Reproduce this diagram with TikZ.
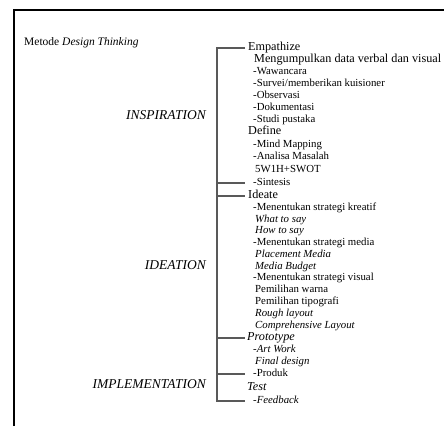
\documentclass[tikz,border=0pt]{standalone}
\usepackage{fontspec}
\setmainfont{Liberation Serif}
\begin{document}
\begin{tikzpicture}[x=1pt,y=-1pt,
  item/.style={anchor=mid west,inner sep=0pt,font=\fontsize{10.8}{12}\selectfont},
  head/.style={anchor=mid west,inner sep=0pt,font=\fontsize{12.2}{14}\selectfont},
  phase/.style={anchor=mid east,inner sep=0pt,font=\fontsize{13.5}{16}\selectfont\itshape},
  brace/.style={draw=black!65,line width=1.1pt}]
\useasboundingbox (0,0) rectangle (444,426);
% frame
\draw [line width=1.4pt] (14,426) -- (14,10) -- (444,10);

% title and phases
\node [item,font=\fontsize{11.5}{14}\selectfont] (title) at (24,43) {Metode \textit{Design Thinking}};
\node [phase] (insp) at (206,117) {INSPIRATION};
\node [phase] (idea) at (206,267) {IDEATION};
\node [phase] (impl) at (206,386) {IMPLEMENTATION};

% nodes
\node [head] (emp) at (248,48) {Empathize};
\node [head] (kumpul) at (254,60) {Mengumpulkan data verbal dan visual};
\node [item] (waw) at (253,72) {-Wawancara};
\node [item] (surv) at (253,84) {-Survei/memberikan kuisioner};
\node [item] (obs) at (253,96) {-Observasi};
\node [item] (dok) at (253,108) {-Dokumentasi};
\node [item] (stu) at (253,120) {-Studi pustaka};
\node [head] (def) at (248,132) {Define};
\node [item] (mind) at (253,145) {-Mind Mapping};
\node [item] (ana) at (253,157) {-Analisa Masalah};
\node [item] (swot) at (255,170) {5W1H+SWOT};
\node [item] (sin) at (253,183) {-Sintesis};

\node [head] (ide) at (248,196) {Ideate};
\node [item] (kre) at (253,208) {-Menentukan strategi kreatif};
\node [item] (what) at (255,220) {\textit{What to say}};
\node [item] (how) at (255,231) {\textit{How to say}};
\node [item] (med) at (253,243) {-Menentukan strategi media};
\node [item] (place) at (255,255) {\textit{Placement Media}};
\node [item] (budget) at (255,267) {\textit{Media Budget}};
\node [item] (vis) at (253,278) {-Menentukan strategi visual};
\node [item] (warna) at (255,290) {Pemilihan warna};
\node [item] (tipo) at (255,302) {Pemilihan tipografi};
\node [item] (rough) at (255,314) {\textit{Rough layout}};
\node [item] (comp) at (255,326) {\textit{Comprehensive Layout}};

\node [head] (pro) at (247,338) {\textit{Prototype}};
\node [item] (art) at (253,350) {\textit{-Art Work}};
\node [item] (fin) at (255,362) {\textit{Final design}};
\node [item] (prd) at (253,374) {-Produk};
\node [head] (test) at (247,388) {\textit{Test}};
\node [item] (fb) at (253,401) {\textit{-Feedback}};

% bracket
\coordinate (brk) at (217,0);
\coordinate (tk) at (245,0);
\draw [brace] (tk |- emp.mid west) -- (brk |- emp.mid west) -- (brk |- fb.mid west) -- (tk |- fb.mid west);
\foreach \n in {sin,ide,pro,prd}
  \draw [brace] (brk |- \n.mid west) -- (tk |- \n.mid west);

\end{tikzpicture}
\end{document}
